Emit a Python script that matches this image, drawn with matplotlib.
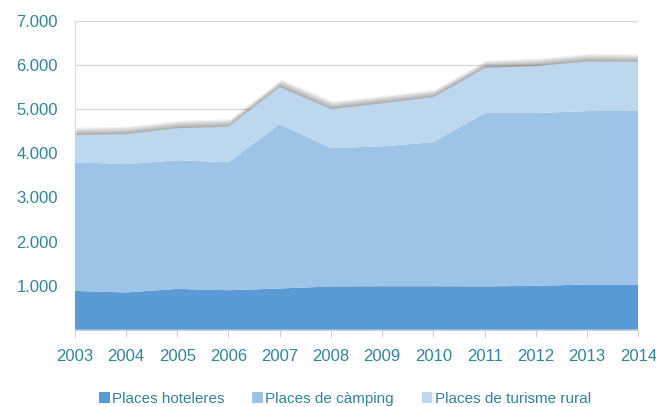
import matplotlib
matplotlib.use("Agg")
import matplotlib.pyplot as plt
import matplotlib.patheffects as pe
from matplotlib.patches import Patch

plt.rcParams['font.family'] = ['Liberation Sans', 'DejaVu Sans']

# données
anys = [2003, 2004, 2005, 2006, 2007, 2008, 2009, 2010, 2011, 2012, 2013, 2014]
hoteleres = [880, 845, 925, 895, 935, 980, 985, 985, 980, 995, 1025, 1025]
camping = [2920, 2910, 2920, 2905, 3730, 3140, 3175, 3270, 3935, 3920, 3935, 3940]
rural = [615, 680, 725, 805, 840, 885, 975, 1020, 1020, 1065, 1125, 1110]
noms = ['Places hoteleres', 'Places de càmping', 'Places de turisme rural']
y_ticks = [1000, 2000, 3000, 4000, 5000, 6000, 7000]
y_labels = ['1.000', '2.000', '3.000', '4.000', '5.000', '6.000', '7.000']

couleurs = ['#5B9BD5', '#9DC3E6', '#BDD7EE']
teal = '#31849B'

fig = plt.figure(figsize=(6.56, 4.07), dpi=100)
ax = fig.add_axes([0.114, 0.19, 0.859, 0.758])

polys = ax.stackplot(anys, hoteleres, camping, rural, colors=couleurs, lw=0, zorder=3)

# ombre portée floue sur la série du haut
ombre = [pe.SimplePatchShadow(offset=(0.25 * k, 0.9 * k), shadow_rgbFace='k', alpha=0.06)
         for k in range(6, 0, -1)]
polys[2].set_path_effects(ombre + [pe.Normal()])

ax.set_xlim(anys[0], anys[-1])
ax.set_ylim(0, 7000)
ax.set_yticks(y_ticks)
ax.set_yticklabels(y_labels)
ax.set_xticks(anys)
ax.set_xticklabels([str(a) for a in anys])

ax.grid(axis='y', color='#D9D9D9', lw=1, zorder=0)
ax.set_axisbelow(True)
for s in ['top', 'right']:
    ax.spines[s].set_visible(False)
ax.spines['left'].set_color('#D9D9D9')
ax.spines['bottom'].set_color('#D0D0D0')
ax.tick_params(axis='y', length=0, pad=12, labelsize=12, labelcolor=teal)
ax.tick_params(axis='x', length=5, color='#D0D0D0', pad=9, labelsize=12, labelcolor=teal)

handles = [Patch(facecolor=c, edgecolor='none') for c in couleurs]
leg = fig.legend(handles, noms, loc='center', bbox_to_anchor=(0.526, 0.02), ncol=3,
                 frameon=False, fontsize=11, handlelength=0.7, handleheight=0.7,
                 handletextpad=0.15, columnspacing=1.8)
for t in leg.get_texts():
    t.set_color(teal)

fig.savefig('out.png', dpi=100)
